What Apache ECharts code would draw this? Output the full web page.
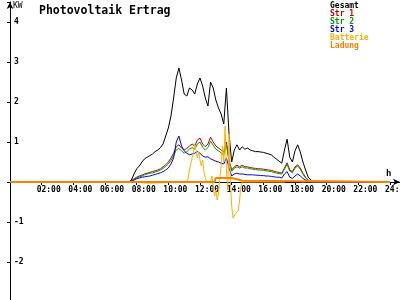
<!DOCTYPE html>
<html>
<head>
<meta charset="utf-8">
<script src="https://cdn.jsdelivr.net/npm/echarts@6/dist/echarts.min.js"></script>
<style>
html,body{margin:0;padding:0;background:#fff;}
#chart{width:400px;height:300px;}
</style>
</head>
<body>
<div id="chart"></div>
<script>
// ---- data ----
const dayTimes = [
  "00:00",
  "07:30","07:40","07:50",
  "08:00","08:10","08:20","08:30","08:40","08:50",
  "09:00","09:10","09:20","09:30","09:40","09:50",
  "10:00","10:10","10:20","10:30","10:40","10:50",
  "11:00","11:10","11:20","11:30","11:40","11:50",
  "12:00","12:10","12:20","12:30","12:40","12:50",
  "13:00","13:10","13:20","13:30","13:40","13:50",
  "14:00","14:10","14:20","14:30","14:40","14:50",
  "15:00","15:10","15:20","15:30","15:40","15:50",
  "16:00","16:10","16:20","16:30","16:40","16:50",
  "17:00","17:10","17:20","17:30","17:40","17:50",
  "18:00","18:10","18:20","18:30","18:40","18:50",
  "19:00","19:10",
  "24:00"
];
const gesamt = [
  0,
  0, 0.05, 0.2,
  0.33, 0.4, 0.5, 0.58, 0.62, 0.66,
  0.7, 0.76, 0.8, 0.86, 0.95, 1.15,
  1.35, 1.65, 2.1, 2.6, 2.85, 2.55,
  2.2, 2.15, 2.35, 2.3, 2.2, 2.45,
  2.6, 2.4, 2.1, 1.9, 2.5, 2.35,
  2.05, 1.85, 1.7, 1.45, 2.35, 1.2,
  0.5, 0.8, 0.93, 0.8, 0.88, 0.82,
  0.85, 0.8, 0.78, 0.76, 0.76, 0.75,
  0.74, 0.72, 0.7, 0.68, 0.62, 0.57,
  0.52, 0.47, 0.8, 1.07, 0.62, 0.5,
  0.78, 0.93, 0.75, 0.5, 0.3, 0.12,
  0.05, 0,
  0
];
const str1 = [
  0,
  0, 0.03, 0.08,
  0.12, 0.15, 0.17, 0.2, 0.22, 0.24,
  0.26, 0.28, 0.3, 0.33, 0.38, 0.43,
  0.5, 0.6, 0.72, 0.88, 0.93, 0.85,
  0.8, 0.84, 0.9, 0.95, 0.9, 1.05,
  1.1, 0.95, 0.88, 0.95, 1.12, 1.0,
  0.9, 0.85, 0.8, 0.75, 1.0, 0.55,
  0.3, 0.38, 0.42, 0.38, 0.42, 0.38,
  0.38, 0.36, 0.35, 0.34, 0.33, 0.33,
  0.32, 0.31, 0.3, 0.29, 0.27, 0.25,
  0.24, 0.22, 0.35, 0.48, 0.3, 0.26,
  0.38, 0.43, 0.35, 0.22, 0.12, 0.05,
  0.02, 0,
  0
];
const str2 = [
  0,
  0, 0.02, 0.07,
  0.1, 0.13, 0.15, 0.18, 0.2, 0.22,
  0.23, 0.25, 0.27, 0.3, 0.34, 0.39,
  0.45, 0.54, 0.66, 0.8, 0.84, 0.78,
  0.72, 0.76, 0.82, 0.86, 0.82, 0.95,
  1.0, 0.87, 0.8, 0.86, 1.02, 0.92,
  0.82, 0.78, 0.73, 0.68, 0.95, 0.5,
  0.27, 0.35, 0.38, 0.35, 0.38, 0.35,
  0.35, 0.33, 0.32, 0.31, 0.3, 0.3,
  0.29, 0.28, 0.27, 0.26, 0.24, 0.22,
  0.21, 0.2, 0.32, 0.44, 0.27, 0.23,
  0.35, 0.4, 0.32, 0.2, 0.1, 0.04,
  0.01, 0,
  0
];
const str3 = [
  0,
  0, 0.02, 0.05,
  0.08, 0.1, 0.12, 0.13, 0.14, 0.15,
  0.17, 0.19, 0.21, 0.23, 0.26, 0.3,
  0.35, 0.45, 0.6, 1.0, 1.15, 0.9,
  0.78, 0.72, 0.68, 0.7, 0.72, 0.76,
  0.72, 0.65, 0.62, 0.63, 0.58, 0.55,
  0.52, 0.5, 0.47, 0.45, 0.6, 0.35,
  0.15, 0.2, 0.22, 0.2, 0.2, 0.19,
  0.18, 0.18, 0.18, 0.17, 0.17, 0.16,
  0.16, 0.15, 0.15, 0.14, 0.13, 0.12,
  0.12, 0.1, 0.2, 0.26, 0.12, 0.09,
  0.15, 0.2, 0.15, 0.09, 0.05, 0.02,
  0, 0,
  0
];
const batterieTimes = [
  "00:00","03:55","04:00","04:05","07:55","08:00","08:40","08:45",
  "11:10","11:15","11:20","11:25","11:30","11:35","11:40","11:45","11:50","11:55",
  "12:00","12:05","12:10","12:15","12:20","12:25","12:40","12:45","12:50","12:55",
  "13:00","13:05","13:10","13:15","13:20","13:25","13:30","13:35","13:40","13:45","13:50","13:55",
  "14:00","14:05","14:10","14:15","14:20","14:25","14:30","14:35","14:40",
  "17:20","17:25","17:35","17:40","18:35","18:40","18:50","18:55","24:00"
];
const batterie = [
  0, 0, -0.03, 0, 0, -0.03, -0.03, 0,
  0, 0.1, 0.3, 0.45, 0.6, 0.75, 0.93, 0.8, 0.6, 0.75,
  0.55, 0.4, 0.55, 0.25, 0.1, 0, 0, 0.15, -0.1, -0.35,
  -0.2, -0.45, -0.3, 0.1, 0.4, 0.9, 0.5, 1.4, 0.3, -0.2, 1.2, 0,
  -0.6, -0.9, -0.85, -0.78, -0.75, -0.72, -0.45, -0.1, 0,
  0, 0.04, 0.04, 0, 0, 0.04, 0.04, 0, 0
];
const ladungTimes = ["00:00","12:55","13:00","14:00","14:20","14:40","14:45","24:00"];
const ladung = [0, 0, 0.1, 0.1, 0.07, 0.03, 0, 0];

const seriesNames = ["Gesamt", "Str 1", "Str 2", "Str 3", "Batterie", "Ladung"];
const seriesColors = ["#000000", "#c00000", "#00a000", "#0000ff", "#ffb000", "#ff8000"];
const yTickLabels = ["-2", "-1", "1", "2", "3", "4"];

// ---- build ----
const toH = s => { const p = s.split(":"); return +p[0] + (+p[1]) / 60; };
const pair = (ts, vs) => ts.map((t, i) => [toH(t), vs[i]]);
const seriesData = [
  pair(dayTimes, gesamt),
  pair(dayTimes, str1),
  pair(dayTimes, str2),
  pair(dayTimes, str3),
  pair(batterieTimes, batterie),
  pair(ladungTimes, ladung)
];
const MONO = "'DejaVu Sans Mono', monospace";
const pad2 = n => (n < 10 ? "0" : "") + n;

const Y_MIN = -3, Y_MAX = 4.5, GRID_TOP = 2, GRID_H = 300;
const zeroOffset = -GRID_H * (0 - Y_MIN) / (Y_MAX - Y_MIN); // lift x axis to y = 0

const chart = echarts.init(document.getElementById("chart"), null, {renderer: "canvas"});
chart.setOption({
  animation: false,
  backgroundColor: "#ffffff",
  title: {
    text: "Photovoltaik Ertrag",
    left: 34, top: 0,
    textStyle: {fontFamily: MONO, fontSize: 11.5, fontWeight: "bold", color: "#000"}
  },
  legend: {
    orient: "vertical",
    left: 320, top: -3,
    itemGap: 0,
    itemWidth: 0, itemHeight: 8,
    icon: "rect",
    itemStyle: {opacity: 0},
    textStyle: {fontFamily: MONO, fontSize: 8, fontWeight: "bold", lineHeight: 8},
    data: seriesNames.map((n, i) => ({name: n, textStyle: {color: seriesColors[i]}}))
  },
  grid: {left: 10, top: GRID_TOP, width: 390, height: GRID_H, containLabel: false, outerBoundsMode: "none"},
  xAxis: {
    type: "value",
    position: "bottom",
    offset: zeroOffset,
    min: 0, max: 24.63, interval: 2,
    name: "h", nameLocation: "end", nameGap: -14,
    nameTextStyle: {fontFamily: MONO, fontSize: 9, fontWeight: "bold", color: "#000", verticalAlign: "bottom", padding: [0, 0, 4, 0]},
    axisLine: {onZero: false, symbol: ["none", "arrow"], symbolSize: [5, 7], lineStyle: {color: "#000", width: 1}},
    axisTick: {show: true, length: 3, lineStyle: {color: "#000"}},
    splitLine: {show: false},
    axisLabel: {
      showMaxLabel: false, showMinLabel: false,
      align: "left", margin: 4, padding: [0, 0, 0, -5],
      fontFamily: MONO, fontSize: 8, fontWeight: "bold", color: "#000",
      formatter: v => (v > 0 && v <= 24 && v % 2 === 0) ? pad2(v) + ":00" : ""
    }
  },
  yAxis: {
    type: "value",
    min: Y_MIN, max: Y_MAX, interval: 1,
    name: "KW", nameLocation: "end", nameGap: -8,
    nameTextStyle: {fontFamily: MONO, fontSize: 8, color: "#000", align: "left", padding: [0, 0, 0, 3]},
    axisLine: {onZero: false, symbol: ["none", "arrow"], symbolSize: [5, 7], lineStyle: {color: "#000", width: 1}},
    axisTick: {show: true, length: 3, lineStyle: {color: "#000"}},
    splitLine: {show: false},
    axisLabel: {
      inside: true, margin: 4,
      fontFamily: MONO, fontSize: 8, fontWeight: "bold", color: "#000",
      formatter: v => yTickLabels.indexOf(String(v)) >= 0 ? String(v) : ""
    }
  },
  series: seriesData.map((d, i) => ({
    name: seriesNames[i],
    type: "line",
    data: d,
    showSymbol: false,
    symbol: "none",
    color: seriesColors[i],
    lineStyle: {width: i === 5 ? 2 : 1, color: seriesColors[i]},
    z: 2 + i
  }))
});
</script>
</body>
</html>
